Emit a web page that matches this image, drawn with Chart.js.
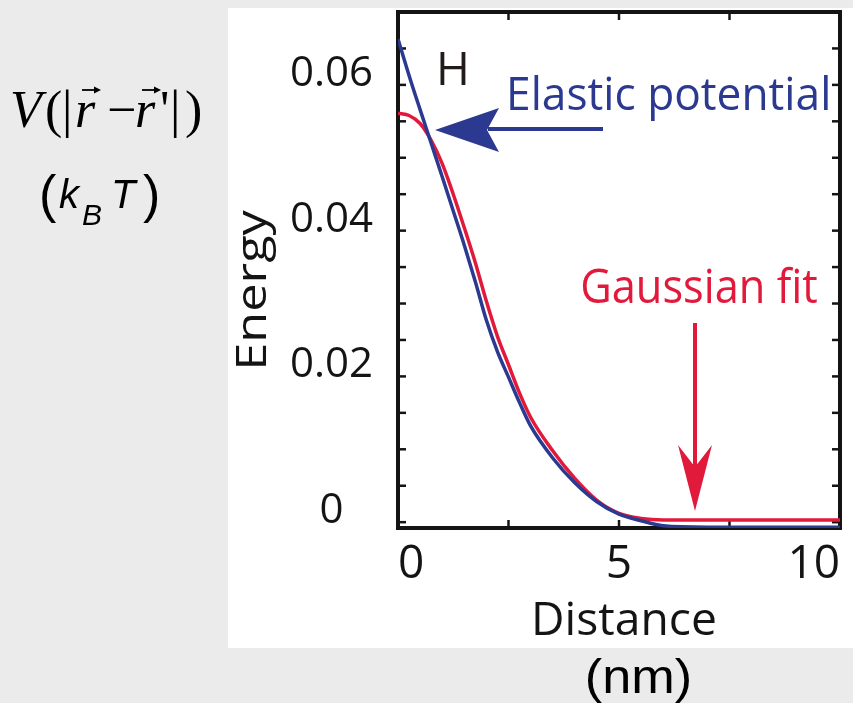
<!DOCTYPE html>
<html><head><meta charset="utf-8">
<script src="https://cdn.jsdelivr.net/npm/chart.js@4.4.0/dist/chart.umd.min.js"></script>
<style>
html,body{margin:0;padding:0;background:#ebebeb;width:853px;height:703px;overflow:hidden}
#wrap{position:absolute;left:0;top:0;width:853px;height:703px}
canvas{display:block}
</style></head><body>
<div id="wrap"><canvas id="c" width="853" height="703"></canvas></div>
<script>
// ---- data ----
const distance = [0, 0.25, 0.5, 0.75, 1, 1.25, 1.5, 1.75, 2, 2.25, 2.5, 2.75, 3, 3.5, 4, 4.5, 5, 5.5, 6, 7, 8, 9, 10];
const elasticEnergy = [0.0663, 0.0613, 0.0566, 0.0520, 0.0474, 0.0427, 0.0380, 0.0330, 0.0277, 0.0234, 0.0199, 0.0164, 0.0132, 0.0088, 0.0054, 0.0028, 0.0011, 0.0002, -0.0005, -0.0007, -0.0007, -0.0007, -0.0007];
const gaussianEnergy = [0.0561, 0.0558, 0.0547, 0.0524, 0.0492, 0.0450, 0.0404, 0.0356, 0.0303, 0.0255, 0.0216, 0.0177, 0.0144, 0.0098, 0.0060, 0.0030, 0.0012, 0.0005, 0.0003, 0.0003, 0.0003, 0.0003, 0.0003];
const xTickValues = [0, 5, 10];
const xTickLabels = ['0', '5', '10'];
const yTickValues = [0, 0.02, 0.04, 0.06];
const yTickLabels = ['0', '0.02', '0.04', '0.06'];
const seriesNames = ['Elastic potential', 'Gaussian fit'];

const NAVY = '#2b3990';
const RED = '#e11a3c';
const INK = '#141414';

function labelFor(v, vals, labs) {
  for (let i = 0; i < vals.length; i++) if (Math.abs(v - vals[i]) < 1e-9) return labs[i];
  return '';
}

function fitText(ctx, text, x, y, font, width, color) {
  ctx.save();
  ctx.font = font; ctx.fillStyle = color; ctx.textBaseline = 'alphabetic'; ctx.textAlign = 'left';
  const m = ctx.measureText(text);
  const ink = m.actualBoundingBoxLeft + m.actualBoundingBoxRight;
  const s = width ? width / ink : 1;
  ctx.translate(x, y); ctx.scale(s, 1);
  ctx.fillText(text, m.actualBoundingBoxLeft, 0);
  ctx.restore();
}
function put(ctx, text, x, y, font, color) {
  ctx.save(); ctx.font = font; ctx.fillStyle = color || '#000'; ctx.textBaseline = 'alphabetic'; ctx.textAlign = 'left';
  ctx.fillText(text, x, y); ctx.restore();
}
function vecArrow(ctx, x1, x2, y) {
  ctx.save(); ctx.strokeStyle = '#000'; ctx.fillStyle = '#000'; ctx.lineWidth = 1.8;
  ctx.beginPath(); ctx.moveTo(x1, y); ctx.lineTo(x2 - 4, y); ctx.stroke();
  ctx.beginPath(); ctx.moveTo(x2, y); ctx.lineTo(x2 - 7, y - 3.5); ctx.lineTo(x2 - 7, y + 3.5); ctx.closePath(); ctx.fill();
  ctx.restore();
}

const decor = {
  id: 'decor',
  beforeDraw(chart) {
    const ctx = chart.ctx;
    ctx.save();
    ctx.fillStyle = '#ebebeb'; ctx.fillRect(0, 0, chart.width, chart.height);
    ctx.fillStyle = '#ffffff'; ctx.fillRect(228, 8, 625, 640);
    ctx.restore();
  },
  beforeDatasetsDraw(chart) {
    const ctx = chart.ctx, a = chart.chartArea, x = chart.scales.x, y = chart.scales.y;
    ctx.save();
    ctx.strokeStyle = INK; ctx.lineWidth = 2.5;
    const seg = (x1, y1, x2, y2) => { ctx.beginPath(); ctx.moveTo(x1, y1); ctx.lineTo(x2, y2); ctx.stroke(); };
    y.ticks.forEach(t => { const p = y.getPixelForValue(t.value); seg(a.left, p, a.left + 8, p); seg(a.right, p, a.right - 8, p); });
    x.ticks.forEach(t => { const p = x.getPixelForValue(t.value); seg(p, a.bottom, p, a.bottom - 8); seg(p, a.top, p, a.top + 8); });
    ctx.lineWidth = 4;
    ctx.strokeRect(a.left, a.top, a.right - a.left, a.bottom - a.top);
    ctx.restore();
  },
  afterDraw(chart) {
    const ctx = chart.ctx;
    // H label
    put(ctx, 'H', 436, 85, '46px "Open Sans"', '#231a1a');
    // Elastic potential label + arrow
    fitText(ctx, seriesNames[0], 510, 110, '45px "Open Sans"', 318, NAVY);
    ctx.save();
    ctx.fillStyle = NAVY; ctx.strokeStyle = NAVY; ctx.lineWidth = 4;
    ctx.beginPath(); ctx.moveTo(603, 129); ctx.lineTo(488, 129); ctx.stroke();
    ctx.beginPath(); ctx.moveTo(435, 130); ctx.lineTo(499, 108); ctx.lineTo(487, 130); ctx.lineTo(499, 152); ctx.closePath(); ctx.fill();
    ctx.restore();
    // Gaussian fit label + arrow
    fitText(ctx, seriesNames[1], 582, 303, '47px "Open Sans"', 235, RED);
    ctx.save();
    ctx.fillStyle = RED; ctx.strokeStyle = RED; ctx.lineWidth = 4;
    ctx.beginPath(); ctx.moveTo(695, 323); ctx.lineTo(695, 470); ctx.stroke();
    ctx.beginPath(); ctx.moveTo(695, 511); ctx.lineTo(678, 445); ctx.lineTo(695, 467); ctx.lineTo(712, 445); ctx.closePath(); ctx.fill();
    ctx.restore();
    // Energy (rotated axis title)
    ctx.save();
    ctx.translate(266, 366); ctx.rotate(-Math.PI / 2);
    fitText(ctx, 'Energy', 0, 0, '42px "Open Sans"', 157, INK);
    ctx.restore();
    // Distance axis title
    fitText(ctx, 'Distance', 535, 635, '46px "Open Sans"', 180, INK);
    // (nm)
    fitText(ctx, '(nm)', 587, 693, '48px "Liberation Sans"', 103, '#000');
    // V(|r - r'|)
    const ser = '"Liberation Serif"';
    put(ctx, 'V', 10, 127, 'italic 52px ' + ser);
    put(ctx, '(', 45, 127, '52px ' + ser);
    put(ctx, '|', 62, 127, '52px ' + ser);
    put(ctx, 'r', 75, 127, 'italic 52px ' + ser);
    put(ctx, '\u2212', 107, 127, '52px ' + ser);
    put(ctx, 'r', 135, 127, 'italic 52px ' + ser);
    put(ctx, "'", 160, 127, '52px ' + ser);
    put(ctx, '|', 170, 127, '52px ' + ser);
    put(ctx, ')', 185, 127, '52px ' + ser);
    vecArrow(ctx, 82, 101, 90);
    vecArrow(ctx, 142, 161, 90);
    // (k_B T)
    const sans = '"Liberation Sans"';
    put(ctx, '(', 39, 212, '52px ' + sans);
    put(ctx, 'k', 59, 208, 'italic 40px ' + sans);
    put(ctx, 'B', 82, 225, 'italic 30px ' + sans);
    put(ctx, 'T', 111, 208, 'italic 40px ' + sans);
    put(ctx, ')', 143, 212, '52px ' + sans);
  }
};

function build() {
  const pts = arr => distance.map((d, i) => ({ x: d, y: arr[i] }));
  new Chart(document.getElementById('c'), {
    type: 'line',
    data: {
      datasets: [
        { label: seriesNames[0], data: pts(elasticEnergy), borderColor: NAVY, borderWidth: 3.5, pointRadius: 0, cubicInterpolationMode: 'monotone', fill: false },
        { label: seriesNames[1], data: pts(gaussianEnergy), borderColor: RED, borderWidth: 3.5, pointRadius: 0, cubicInterpolationMode: 'monotone', fill: false }
      ]
    },
    options: {
      responsive: false, animation: false, devicePixelRatio: 1,
      layout: { padding: { left: 228, top: 12, right: 13, bottom: 0 } },
      plugins: { legend: { display: false }, tooltip: { enabled: false } },
      scales: {
        x: {
          type: 'linear', min: 0, max: 10,
          grid: { display: false, drawTicks: false }, border: { display: false },
          ticks: { stepSize: 2.5, autoSkip: false, maxRotation: 0, minRotation: 0, align: 'inner', padding: 9, color: INK,
                   font: { family: 'Open Sans', size: 46 }, callback: v => labelFor(v, xTickValues, xTickLabels) },
          afterFit: s => { s.height = 703 - 528; s.paddingLeft = 0; s.paddingRight = 0; }
        },
        y: {
          type: 'linear', min: -0.0008, max: 0.07,
          grid: { display: false, drawTicks: false }, border: { display: false },
          ticks: { stepSize: 0.005, includeBounds: false, autoSkip: false, crossAlign: 'center', padding: 25, labelOffset: -11, color: INK,
                   font: { family: 'Open Sans', size: 42 }, callback: v => labelFor(v, yTickValues, yTickLabels) },
          afterFit: s => { s.width = 170; s.paddingTop = 0; s.paddingBottom = 0; }
        }
      }
    },
    plugins: [decor]
  });
}
Promise.all([
  document.fonts.load('42px "Open Sans"'),
  document.fonts.load('48px "Liberation Sans"'),
  document.fonts.load('italic 48px "Liberation Sans"'),
  document.fonts.load('italic 52px "Liberation Serif"'),
  document.fonts.load('52px "Liberation Serif"')
]).then(build, build);
</script>
</body></html>
